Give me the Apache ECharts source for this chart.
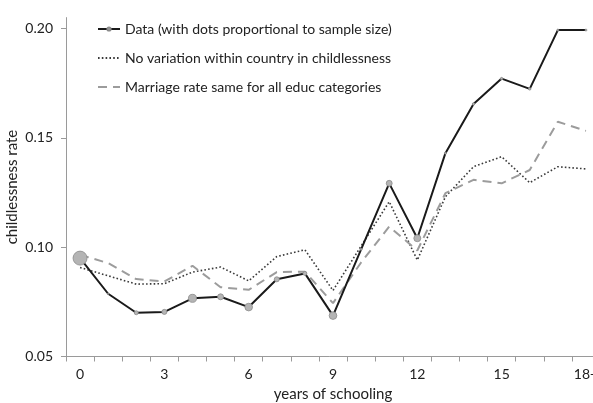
<!DOCTYPE html>
<html>
<head>
<meta charset="utf-8">
<script src="https://cdn.jsdelivr.net/npm/echarts@6/dist/echarts.min.js"></script>
<style>
html,body{margin:0;padding:0;background:#fff;}
#chart{width:593px;height:403px;}
</style>
</head>
<body>
<div id="chart"></div>
<script>
const categories = ['0','1','2','3','4','5','6','7','8','9','10','11','12','13','14','15','16','17','18+'];
const dataRate = [0.095,0.0787,0.0700,0.0704,0.0766,0.0773,0.0726,0.0853,0.0880,0.0687,0.0990,0.1292,0.1041,0.1430,0.1655,0.1771,0.1724,0.1993,0.1993];
const noVariation = [0.0907,0.0869,0.0831,0.0833,0.0886,0.0909,0.0846,0.0957,0.0988,0.0802,0.1005,0.1208,0.0941,0.1231,0.1368,0.1414,0.1295,0.1368,0.1358];
const sameMarriage = [0.0965,0.0927,0.0854,0.0843,0.0915,0.0817,0.0805,0.0886,0.0888,0.0744,0.0930,0.1094,0.0985,0.1247,0.1308,0.1292,0.1353,0.1574,0.1532];
const sampleShare = [1.0,0.01,0.08,0.13,0.33,0.18,0.30,0.13,0.08,0.30,0.02,0.18,0.25,0.02,0.03,0.03,0.03,0.02,0.02];
const yTicks = [0.05,0.10,0.15,0.20];
const seriesNames = ['Data (with dots proportional to sample size)','No variation within country in childlessness','Marriage rate same for all educ categories'];

const FONT = 'Lato';
const noDot = {color:'rgba(0,0,0,0)', borderWidth:0, opacity:0};
const chart = echarts.init(document.getElementById('chart'), null, {renderer:'canvas'});
chart.setOption({
  backgroundColor:'#fff',
  animation:false,
  textStyle:{fontFamily:FONT},
  grid:{left:66, top:17.6, width:534, bottom:46.5, containLabel:false, outerBoundsMode:'none'},
  legend:{
    orient:'vertical', left:92, top:17, itemWidth:22, itemHeight:4, itemGap:15,
    textStyle:{fontFamily:FONT, fontSize:14, color:'#222', lineHeight:14},
    data:[
      {name:seriesNames[0]},
      {name:seriesNames[1], itemStyle:noDot},
      {name:seriesNames[2], itemStyle:noDot}
    ]
  },
  xAxis:{
    type:'category', data:categories, boundaryGap:true,
    name:'years of schooling', nameLocation:'middle', nameGap:22,
    nameTextStyle:{fontFamily:FONT, fontSize:15, color:'#222'},
    axisLine:{lineStyle:{color:'#9a9a9a', width:1}},
    axisTick:{show:true, interval:0, length:5, lineStyle:{color:'#9a9a9a'}},
    axisLabel:{interval:2, fontFamily:FONT, fontSize:14, color:'#222', margin:11},
    splitLine:{show:false}
  },
  yAxis:{
    type:'value', min:0.05, max:0.205, interval:0.05,
    name:'childlessness rate', nameLocation:'middle', nameGap:46, nameRotate:90,
    nameMoveOverlap:false,
    nameTextStyle:{fontFamily:FONT, fontSize:15, color:'#222'},
    axisLine:{show:true, lineStyle:{color:'#9a9a9a', width:1}},
    axisTick:{show:true, length:5, customValues:yTicks, lineStyle:{color:'#9a9a9a'}},
    axisLabel:{customValues:yTicks, fontFamily:FONT, fontSize:14, color:'#222', margin:13,
      formatter:v=>v.toFixed(2)},
    splitLine:{show:false}
  },
  series:[
    {
      name:seriesNames[0], type:'line', data:dataRate, z:5,
      symbol:'circle',
      symbolSize:(v,p)=>Math.max(1,14*Math.sqrt(sampleShare[p.dataIndex])),
      showAllSymbol:true,
      lineStyle:{color:'#1a1a1a', width:2},
      itemStyle:{color:'#b4b4b4', borderColor:'#8a8a8a', borderWidth:0.8}
    },
    {
      name:seriesNames[1], type:'line', data:noVariation, z:3,
      symbol:'none',
      lineStyle:{color:'#3a3a3a', width:1.6, type:[1.6,2.2]},
      itemStyle:{color:'#3a3a3a'}
    },
    {
      name:seriesNames[2], type:'line', data:sameMarriage, z:4,
      symbol:'none',
      lineStyle:{color:'#9c9c9c', width:2, type:[9,6]},
      itemStyle:{color:'#9c9c9c'}
    }
  ]
});
</script>
</body>
</html>
